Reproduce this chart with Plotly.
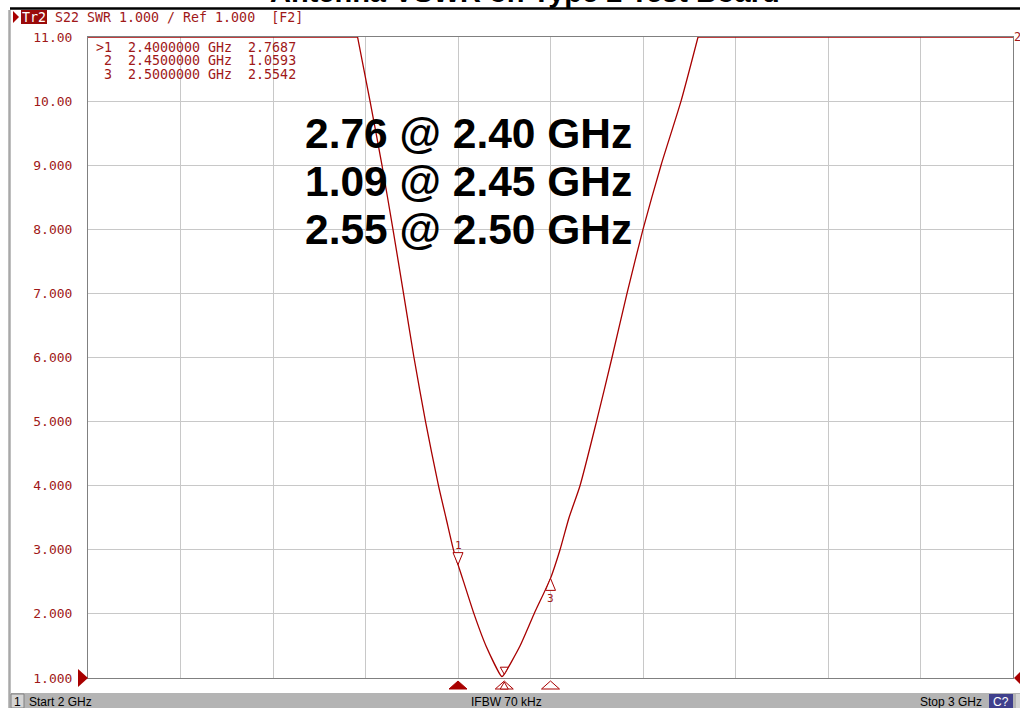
import plotly.graph_objects as go

# ---------------- data ----------------
# swept trace (values above the 11.00 top of the grid are shown clipped at 11)
freq_ghz = [2.000, 2.2914, 2.3049, 2.3178, 2.3297, 2.3411, 2.3524, 2.3649, 2.3789,
            2.3870, 2.3951, 2.4000, 2.4061, 2.4173, 2.4303, 2.4475, 2.4500, 2.4670,
            2.4822, 2.5000, 2.5103, 2.5200, 2.5319, 2.5497, 2.5665, 2.5827, 2.6000,
            2.6195, 2.6411, 2.6595, 3.000]
swr = [11.0, 11.0, 10.0, 9.0, 8.0, 7.0, 6.0, 5.0, 4.0,
       3.5, 3.0, 2.7687, 2.5, 2.0, 1.5, 1.02, 1.0593, 1.5,
       2.0, 2.5542, 3.0, 3.5, 4.0, 5.0, 6.0, 7.0, 8.0,
       9.0, 10.0, 11.0, 11.0]

marker_ids = ["1", "2", "3"]
marker_freq = [2.40, 2.45, 2.50]
marker_swr = [2.7687, 1.0593, 2.5542]
marker_table = [">1  2.4000000 GHz  2.7687",
                " 2  2.4500000 GHz  1.0593",
                " 3  2.5000000 GHz  2.5542"]
summary_lines = ["2.76 @ 2.40 GHz", "1.09 @ 2.45 GHz", "2.55 @ 2.50 GHz"]

ytick_vals = [1, 2, 3, 4, 5, 6, 7, 8, 9, 10, 11]
ytick_text = ["1.000", "2.000", "3.000", "4.000", "5.000", "6.000",
              "7.000", "8.000", "9.000", "10.00", "11.00"]

title_text = "Antenna VSWR on Type 2 Test Board"
trace_tag = "Tr2"
header_text = "S22 SWR 1.000 / Ref 1.000  [F2]"
channel_text = "1"
start_text = "Start 2 GHz"
ifbw_text = "IFBW 70 kHz"
stop_text = "Stop 3 GHz"
cal_text = "C?"

# ---------------- layout helpers ----------------
W, H = 1020, 708
L, R, T, B = 88, 1013, 37, 678
RED = "#a80000"
TXT = "#a01818"
MONO = "DejaVu Sans Mono"


def px(p):
    return (p - L) / (R - L)


def py(p):
    return (B - p) / (B - T)


fig = go.Figure()
# clipped flat parts at the top of the grid
for sl in (slice(0, 2), slice(len(freq_ghz) - 2, len(freq_ghz))):
    fig.add_trace(go.Scatter(x=freq_ghz[sl], y=swr[sl], mode="lines",
                             line=dict(color=RED, width=1.3),
                             hoverinfo="skip", showlegend=False))
# the dip
fig.add_trace(go.Scatter(x=freq_ghz[1:-1], y=swr[1:-1], mode="lines",
                         line=dict(color=RED, width=1.3, shape="spline", smoothing=0.6),
                         hoverinfo="skip", showlegend=False))

shapes = []
annotations = []

# title (cut off at the top of the picture)
annotations.append(dict(text="<b>" + title_text + "</b>", xref="paper", yref="paper",
                        x=px(525), y=py(-8), xanchor="center", yanchor="middle",
                        showarrow=False, font=dict(family="Liberation Sans", size=29, color="black")))
# black rule under title
shapes.append(dict(type="line", xref="paper", yref="paper", x0=px(10), x1=px(1020),
                   y0=py(8.5), y1=py(8.5), line=dict(color="black", width=2.5)))
# left window border
shapes.append(dict(type="line", xref="paper", yref="paper", x0=px(9.5), x1=px(9.5),
                   y0=py(10), y1=py(708), line=dict(color="#a8a8a8", width=2.5)))

# header
shapes.append(dict(type="path", xref="paper", yref="paper",
                   path=f"M{px(13)},{py(11)} L{px(19)},{py(17)} L{px(13)},{py(23)} Z",
                   fillcolor=RED, line=dict(width=0)))
shapes.append(dict(type="rect", xref="paper", yref="paper", x0=px(21), x1=px(47),
                   y0=py(10), y1=py(24), fillcolor="#9a0a0a", line=dict(width=0)))
annotations.append(dict(text=trace_tag, xref="paper", yref="paper", x=px(34), y=py(17),
                        xanchor="center", yanchor="middle", showarrow=False,
                        font=dict(family=MONO, size=13.3, color="white")))
annotations.append(dict(text=header_text.replace(" ", "&nbsp;"), xref="paper", yref="paper",
                        x=px(53), y=py(17), xanchor="left", yanchor="middle", showarrow=False,
                        font=dict(family=MONO, size=13.3, color=TXT)))

# marker table
for i, line in enumerate(marker_table):
    annotations.append(dict(text=line.replace(" ", "&nbsp;"), xref="paper", yref="paper",
                            x=px(94), y=py(48 + 13 * i), xanchor="left", yanchor="middle",
                            showarrow=False,
                            font=dict(family=MONO, size=13.3, color=TXT)))

# big summary text
for i, line in enumerate(summary_lines):
    annotations.append(dict(text="<b>" + line + "</b>", xref="paper", yref="paper",
                            x=px(303), y=py(133 + 48.5 * i), xanchor="left", yanchor="middle",
                            showarrow=False,
                            font=dict(family="Liberation Sans", size=42.5, color="black")))

# trace tag "2" on the right edge
annotations.append(dict(text="2", xref="paper", yref="paper", x=px(1012), y=py(37),
                        xanchor="left", yanchor="middle", showarrow=False,
                        font=dict(family=MONO, size=12, color=TXT)))

# markers on the trace
for mid, mf, mv in zip(marker_ids, marker_freq, marker_swr):
    if mid == "3":
        path = "M-5,-12 L5,-12 L0,0 Z"
        lab_shift = -20
    elif mid == "2":
        path = "M-4,7 L4,7 L0,0 Z"
        lab_shift = 0
    else:
        path = "M-5,12 L5,12 L0,0 Z"
        lab_shift = 19
    shapes.append(dict(type="path", xref="x", yref="y", xsizemode="pixel", ysizemode="pixel",
                       xanchor=mf, yanchor=mv, path=path, fillcolor="white",
                       line=dict(color=RED, width=1)))
    if mid != "2":
        annotations.append(dict(text=mid, xref="x", yref="y", x=mf, y=mv, yshift=lab_shift,
                                xanchor="center", yanchor="middle", showarrow=False,
                                font=dict(family=MONO, size=11, color=TXT)))
    # stimulus markers below the axis
    shapes.append(dict(type="path", xref="x", yref="paper", xsizemode="pixel", ysizemode="pixel",
                       xanchor=mf, yanchor=0, path="M-9,-11 L9,-11 L0,-3 Z",
                       fillcolor=RED if mid == "1" else "white",
                       line=dict(color=RED, width=1)))
    if mid == "2":
        shapes.append(dict(type="path", xref="x", yref="paper", xsizemode="pixel",
                           ysizemode="pixel", xanchor=mf, yanchor=0,
                           path="M-4,-11 L4,-11 L0,-4 Z", fillcolor="white",
                           line=dict(color=RED, width=1)))

# reference level arrows (at SWR 1.000, i.e. the bottom of the grid)
shapes.append(dict(type="path", xref="paper", yref="paper", xsizemode="pixel", ysizemode="pixel",
                   xanchor=0, yanchor=0, path="M-10,9 L-10,-9 L0,0 Z",
                   fillcolor=RED, line=dict(width=0)))
shapes.append(dict(type="path", xref="paper", yref="paper", xsizemode="pixel", ysizemode="pixel",
                   xanchor=1, yanchor=0, path="M1,0 L8,7 L8,-7 Z",
                   fillcolor=RED, line=dict(width=0)))

# status bar
shapes.append(dict(type="rect", xref="paper", yref="paper", x0=px(11), x1=px(1020),
                   y0=py(693), y1=py(708), fillcolor="#b4b4b4", line=dict(width=0)))
shapes.append(dict(type="rect", xref="paper", yref="paper", x0=px(11), x1=px(24),
                   y0=py(694), y1=py(708), fillcolor="#d4d4d4",
                   line=dict(color="#808080", width=1)))
shapes.append(dict(type="rect", xref="paper", yref="paper", x0=px(989), x1=px(1013),
                   y0=py(694), y1=py(708), fillcolor="#40408c", line=dict(width=0)))
shapes.append(dict(type="rect", xref="paper", yref="paper", x0=px(1016), x1=px(1020),
                   y0=py(694), y1=py(708), fillcolor="#d4d4d4", line=dict(width=0)))
SB = dict(family="Liberation Sans", size=12, color="black")
annotations.append(dict(text=channel_text, xref="paper", yref="paper", x=px(17.5), y=py(701.5),
                        xanchor="center", yanchor="middle", showarrow=False, font=SB))
annotations.append(dict(text=start_text, xref="paper", yref="paper", x=px(27), y=py(701.5),
                        xanchor="left", yanchor="middle", showarrow=False, font=SB))
annotations.append(dict(text=ifbw_text, xref="paper", yref="paper", x=px(506), y=py(701.5),
                        xanchor="center", yanchor="middle", showarrow=False, font=SB))
annotations.append(dict(text=stop_text, xref="paper", yref="paper", x=px(984), y=py(701.5),
                        xanchor="right", yanchor="middle", showarrow=False, font=SB))
annotations.append(dict(text=cal_text, xref="paper", yref="paper", x=px(1001), y=py(701.5),
                        xanchor="center", yanchor="middle", showarrow=False,
                        font=dict(family="Liberation Sans", size=12, color="white")))

fig.update_layout(
    width=W, height=H, autosize=False,
    margin=dict(l=L, r=W - R, t=T, b=H - B, pad=0),
    paper_bgcolor="white", plot_bgcolor="white",
    showlegend=False,
    xaxis=dict(range=[2, 3], tick0=2, dtick=0.1, showgrid=True, gridcolor="#c8c8c8",
               gridwidth=1, showticklabels=False, ticks="", zeroline=False,
               showline=True, linecolor="#808080", linewidth=1, mirror=True,
               layer="below traces", fixedrange=True),
    yaxis=dict(range=[1, 11], tickmode="array", tickvals=ytick_vals, ticktext=ytick_text,
               showgrid=True, gridcolor="#c8c8c8", gridwidth=1, ticks="",
               ticklabelstandoff=12,
               tickfont=dict(family=MONO, size=13, color=TXT), zeroline=False,
               showline=True, linecolor="#808080", linewidth=1, mirror=True,
               layer="below traces", fixedrange=True),
    shapes=shapes,
    annotations=annotations,
)

fig.write_html("out.html", config={"staticPlot": True},
               post_script="document.body.style.margin='0';document.body.style.overflow='hidden';")
